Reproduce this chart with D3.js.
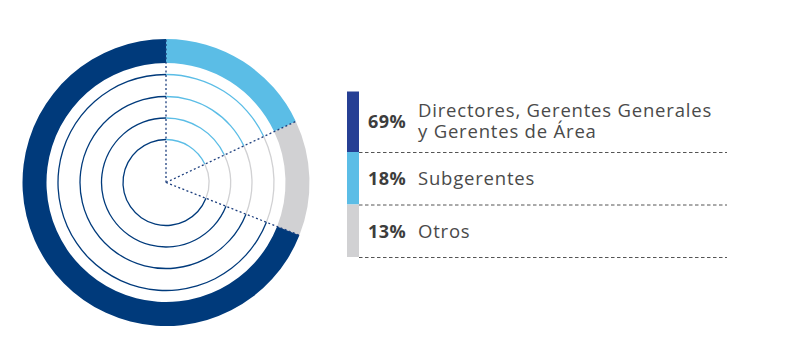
<!DOCTYPE html>
<html>
<head>
<meta charset="utf-8">
<script src="https://cdn.jsdelivr.net/npm/d3@7/dist/d3.min.js"></script>
<style>
  html, body { margin: 0; padding: 0; background: #fff; }
  svg { display: block; }
</style>
</head>
<body>
<svg id="chart" width="795" height="340"></svg>
<script>
// Distribution by position level (percent)
const categories = ["Subgerentes", "Otros", "Directores, Gerentes Generales y Gerentes de Área"];
const values = [18, 13, 69];
const ringColors = ["#5bbde6", "#d1d1d3", "#003a7b"];

// Legend order and wrapped label lines
const legendPct = ["69%", "18%", "13%"];
const legendLines = [["Directores, Gerentes Generales", "y Gerentes de Área"], ["Subgerentes"], ["Otros"]];
const legendColors = ["#263f94", "#5bbde6", "#d1d1d3"];

// Concentric guide rings inside the donut
const guideRadii = [43, 64.5, 86, 108];

const svg = d3.select("#chart");
const cx = 166, cy = 182.5;
const rOuter = 143.5, rInner = 119.5;

const pie = d3.pie().sort(null).value(d => d)(values);
const g = svg.append("g").attr("transform", `translate(${cx},${cy})`);

// Thick outer ring
const arcOuter = d3.arc().innerRadius(rInner).outerRadius(rOuter);
g.selectAll("path.ring").data(pie).join("path")
  .attr("class", "ring")
  .attr("d", arcOuter)
  .attr("fill", (d, i) => ringColors[i]);

// Thin concentric arcs coloured per segment
guideRadii.forEach(r => {
  const a = d3.arc().innerRadius(r - 0.65).outerRadius(r + 0.65);
  g.selectAll(null).data(pie).join("path")
    .attr("d", a)
    .attr("fill", (d, i) => ringColors[i]);
});

// Dotted radial dividers at segment boundaries
const angles = pie.map(d => d.startAngle);
g.selectAll("line.div").data(angles).join("line")
  .attr("class", "div")
  .attr("x1", 0).attr("y1", 0)
  .attr("x2", a => Math.sin(a) * rOuter)
  .attr("y2", a => -Math.cos(a) * rOuter)
  .attr("stroke", "#1d3f7e")
  .attr("stroke-width", 1.3)
  .attr("stroke-dasharray", "2,2.4");

// Legend
const ly = d3.scaleOrdinal().domain([0, 1, 2]).range([91.5, 152, 204.5]);
const lh = [60.5, 52.5, 52.5];
const leg = svg.append("g");
legendPct.forEach((p, i) => {
  const y0 = ly(i);
  leg.append("rect")
    .attr("x", 347).attr("y", y0)
    .attr("width", 12).attr("height", lh[i])
    .attr("fill", legendColors[i]);
  leg.append("line")
    .attr("x1", 359).attr("x2", 727)
    .attr("y1", y0 + lh[i] + 0.5).attr("y2", y0 + lh[i] + 0.5)
    .attr("stroke", "#555")
    .attr("stroke-width", 1)
    .attr("stroke-dasharray", "3.5,2.5");
  const base = i === 0 ? 128 : y0 + 33;
  leg.append("text")
    .attr("x", 368).attr("y", base)
    .attr("font-family", "'Open Sans', sans-serif")
    .attr("font-weight", 700)
    .attr("font-size", 18)
    .attr("letter-spacing", 0.4)
    .attr("fill", "#3d3d3d")
    .text(p);
  const lines = legendLines[i];
  const t = leg.append("text")
    .attr("x", 418)
    .attr("y", i === 0 ? 117 : base)
    .attr("font-family", "'Open Sans', sans-serif")
    .attr("font-weight", 400)
    .attr("font-size", 18.5)
    .attr("letter-spacing", 0.8)
    .attr("fill", "#4a4a4a");
  lines.forEach((ln, k) => {
    t.append("tspan").attr("x", 418).attr("dy", k === 0 ? 0 : 20.5).text(ln);
  });
});
</script>
</body>
</html>
